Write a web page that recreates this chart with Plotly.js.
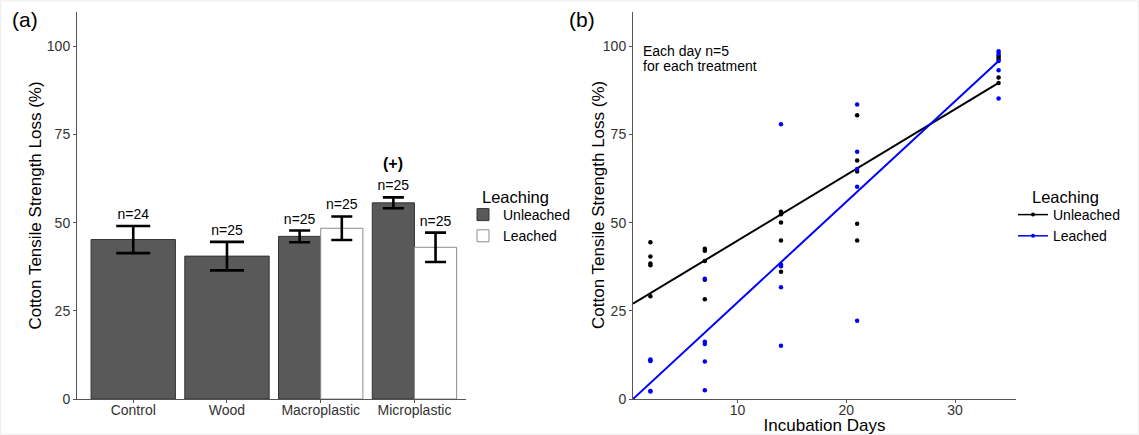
<!DOCTYPE html>
<html><head><meta charset="utf-8">
<script src="https://cdn.plot.ly/plotly-3.0.1.min.js"></script>
<style>html,body{margin:0;padding:0;background:#fff}</style>
</head><body><div id="chart" style="width:1139px;height:435px"></div>
<script>
// ---------- Panel (a) data ----------
const categories = ['Control', 'Wood', 'Macroplastic', 'Microplastic'];
const unleachedMean = [45.2, 40.5, 46.1, 55.6];
const unleachedErr = [3.85, 4.05, 1.65, 1.55];
const unleachedN = ['n=24', 'n=25', 'n=25', 'n=25'];
const leachedCats = ['Macroplastic', 'Microplastic'];
const leachedMean = [48.4, 43.0];
const leachedErr = [3.35, 4.15];
const leachedN = ['n=25', 'n=25'];
const sigCategory = 'Microplastic';
const sigLabel = '(+)';

// ---------- Panel (b) data ----------
const days = [2, 7, 14, 21, 34];
const unleachedLoss = [
  [44.4, 40.4, 38.4, 37.9, 29.1],
  [42.6, 42.0, 39.1, 33.8, 28.3],
  [53.1, 52.4, 50.0, 44.9, 36.1],
  [80.4, 67.6, 64.5, 49.7, 44.9],
  [97.3, 96.8, 96.2, 91.1, 89.6]
];
const leachedLoss = [
  [11.2, 10.9, 10.8, 2.3, 2.1],
  [34.1, 16.2, 15.6, 10.6, 2.5],
  [77.9, 38.1, 37.6, 31.7, 15.1],
  [83.5, 70.1, 65.2, 60.2, 22.2],
  [98.6, 97.9, 95.8, 93.2, 85.2]
];
const fitDays = [0.4, 34];
const unleachedFit = [27.0, 89.6];
const leachedFit = [0.0, 95.8];

// ---------- styling / layout helpers ----------
const W = 1139, H = 435;
const FONT = 'Liberation Sans, Arial, sans-serif';
const px = v => v / W;
const py = v => (H - v) / H;
const YTITLE = 'Cotton Tensile Strength Loss (%)';

const dodge = 0.225, fullW = 0.9, halfW = 0.45;
const hasLeached = categories.map(c => leachedCats.includes(c));
const uX = categories.map((c, i) => i + 1 - (hasLeached[i] ? dodge : 0));
const uW = hasLeached.map(h => h ? halfW : fullW);
const lX = leachedCats.map(c => categories.indexOf(c) + 1 + dodge);

const traces = [];
traces.push({
  type: 'bar', x: uX, y: unleachedMean, width: uW, name: 'Unleached',
  marker: {color: '#595959', line: {color: '#333333', width: 1}},
  xaxis: 'x', yaxis: 'y', legend: 'legend', hoverinfo: 'skip'
});
traces.push({
  type: 'bar', x: lX, y: leachedMean, width: halfW, name: 'Leached',
  marker: {color: '#ffffff', line: {color: '#8c8c8c', width: 1}},
  xaxis: 'x', yaxis: 'y', legend: 'legend', hoverinfo: 'skip'
});
// error bars grouped by bar width
const allBars = [];
uX.forEach((x, i) => allBars.push({x, y: unleachedMean[i], e: unleachedErr[i], w: uW[i], n: unleachedN[i]}));
lX.forEach((x, i) => allBars.push({x, y: leachedMean[i], e: leachedErr[i], w: halfW, n: leachedN[i]}));
[[fullW, 17], [halfW, 10.5]].forEach(([w, cap]) => {
  const sel = allBars.filter(b => b.w === w);
  traces.push({
    type: 'scatter', mode: 'markers', x: sel.map(b => b.x), y: sel.map(b => b.y),
    marker: {size: 0, color: 'rgba(0,0,0,0)'},
    error_y: {type: 'data', array: sel.map(b => b.e), color: '#000', thickness: 2.6, width: cap},
    showlegend: false, hoverinfo: 'skip', xaxis: 'x', yaxis: 'y'
  });
});
traces.push({
  type: 'scatter', mode: 'markers+text', x: allBars.map(b => b.x), y: allBars.map(b => b.y + b.e),
  text: allBars.map(b => b.n), textposition: 'top center',
  marker: {size: 4, color: 'rgba(0,0,0,0)'},
  textfont: {family: FONT, size: 14, color: '#000'},
  showlegend: false, hoverinfo: 'skip', cliponaxis: false, xaxis: 'x', yaxis: 'y'
});

// panel b points & fits
const flatX = arr => days.flatMap((d, i) => arr[i].map(() => d));
[[unleachedLoss, unleachedFit, '#000000', 'Unleached'], [leachedLoss, leachedFit, '#0000ff', 'Leached']]
  .forEach(([loss, fit, col, name]) => {
    traces.push({
      type: 'scatter', mode: 'markers', x: flatX(loss), y: loss.flat(),
      marker: {size: 4.5, color: col}, showlegend: false, hoverinfo: 'skip',
      xaxis: 'x2', yaxis: 'y2'
    });
    traces.push({
      type: 'scatter', mode: 'lines', x: fitDays, y: fit,
      line: {color: col, width: 2}, showlegend: false, hoverinfo: 'skip',
      xaxis: 'x2', yaxis: 'y2'
    });
    traces.push({
      type: 'scatter', mode: 'lines+markers', x: [null], y: [null], name: name,
      line: {color: col, width: 1.5}, marker: {size: 4, color: col},
      legend: 'legend2', xaxis: 'x2', yaxis: 'y2', hoverinfo: 'skip'
    });
  });

const axisCommon = {
  showgrid: false, zeroline: false, showline: true, linecolor: '#555', linewidth: 1,
  ticks: 'outside', ticklen: 3, tickcolor: '#555', tickwidth: 1,
  tickfont: {family: FONT, size: 14, color: '#333'}, automargin: false, fixedrange: true
};
const yDomain = [py(399), py(12)];
const sigIdx = categories.indexOf(sigCategory);

const layout = {
  width: W, height: H, margin: {l: 0, r: 0, t: 0, b: 0},
  paper_bgcolor: '#fff', plot_bgcolor: '#fff',
  font: {family: FONT, color: '#000'},
  barmode: 'overlay',
  xaxis: Object.assign({}, axisCommon, {
    domain: [px(77), px(466)], range: [0.4, 4.55], anchor: 'y',
    tickvals: categories.map((c, i) => i + 1), ticktext: categories, ticklabelstandoff: -5
  }),
  yaxis: Object.assign({}, axisCommon, {
    domain: yDomain, range: [0, 109.7], anchor: 'x', tickvals: [0, 25, 50, 75, 100],
    title: {text: YTITLE, font: {family: FONT, size: 17, color: '#000'}, standoff: 0}
  }),
  xaxis2: Object.assign({}, axisCommon, {
    domain: [px(633), px(1016)], range: [0.4, 35.6], anchor: 'y2', tickvals: [10, 20, 30],
    ticklabelstandoff: -5,
    title: {text: 'Incubation Days', font: {family: FONT, size: 17, color: '#000'}, standoff: 1}
  }),
  yaxis2: Object.assign({}, axisCommon, {
    domain: yDomain, range: [0, 109.7], anchor: 'x2', tickvals: [0, 25, 50, 75, 100]
  }),
  legend: {
    x: px(463), y: py(199), xanchor: 'left', yanchor: 'top',
    font: {family: FONT, size: 14, color: '#000'}, bgcolor: 'rgba(0,0,0,0)', itemclick: false
  },
  legend2: {
    x: px(1013), y: py(199), xanchor: 'left', yanchor: 'top',
    font: {family: FONT, size: 14, color: '#000'}, bgcolor: 'rgba(0,0,0,0)', itemclick: false
  },
  annotations: [
    {xref: 'paper', yref: 'paper', x: px(598.5), y: py(205.5), xanchor: 'center', yanchor: 'middle',
     showarrow: false, textangle: -90, text: YTITLE, font: {family: FONT, size: 17, color: '#000'}},
    {xref: 'paper', yref: 'paper', x: px(10), y: py(19), xanchor: 'left', yanchor: 'middle', showarrow: false,
     text: '(a)', font: {family: FONT, size: 21, color: '#000'}},
    {xref: 'paper', yref: 'paper', x: px(567), y: py(19), xanchor: 'left', yanchor: 'middle', showarrow: false,
     text: '(b)', font: {family: FONT, size: 21, color: '#000'}},
    {xref: 'paper', yref: 'paper', x: px(480), y: py(197), xanchor: 'left', yanchor: 'middle', showarrow: false,
     text: 'Leaching', font: {family: FONT, size: 16.5, color: '#000'}},
    {xref: 'paper', yref: 'paper', x: px(1030), y: py(197), xanchor: 'left', yanchor: 'middle', showarrow: false,
     text: 'Leaching', font: {family: FONT, size: 16.5, color: '#000'}},
    {xref: 'paper', yref: 'paper', x: px(641), y: py(51.5), xanchor: 'left', yanchor: 'middle', showarrow: false,
     text: 'Each day n=5', font: {family: FONT, size: 14, color: '#000'}},
    {xref: 'paper', yref: 'paper', x: px(641), y: py(65.5), xanchor: 'left', yanchor: 'middle', showarrow: false,
     text: 'for each treatment', font: {family: FONT, size: 14, color: '#000'}},
    {xref: 'x', yref: 'y', x: uX[sigIdx], y: unleachedMean[sigIdx] + unleachedErr[sigIdx], yshift: 23,
     xanchor: 'center', yanchor: 'bottom', showarrow: false,
     text: '<b>' + sigLabel + '</b>', font: {family: FONT, size: 16, color: '#000'}}
  ],
  shapes: [
    {type: 'rect', xref: 'paper', yref: 'paper', x0: 0.0005, x1: 0.9995, y0: 0.002, y1: 0.998,
     line: {color: '#ececec', width: 1}}
  ]
};

Plotly.newPlot('chart', traces, layout, {displayModeBar: false, staticPlot: true});
</script>
</body></html>
